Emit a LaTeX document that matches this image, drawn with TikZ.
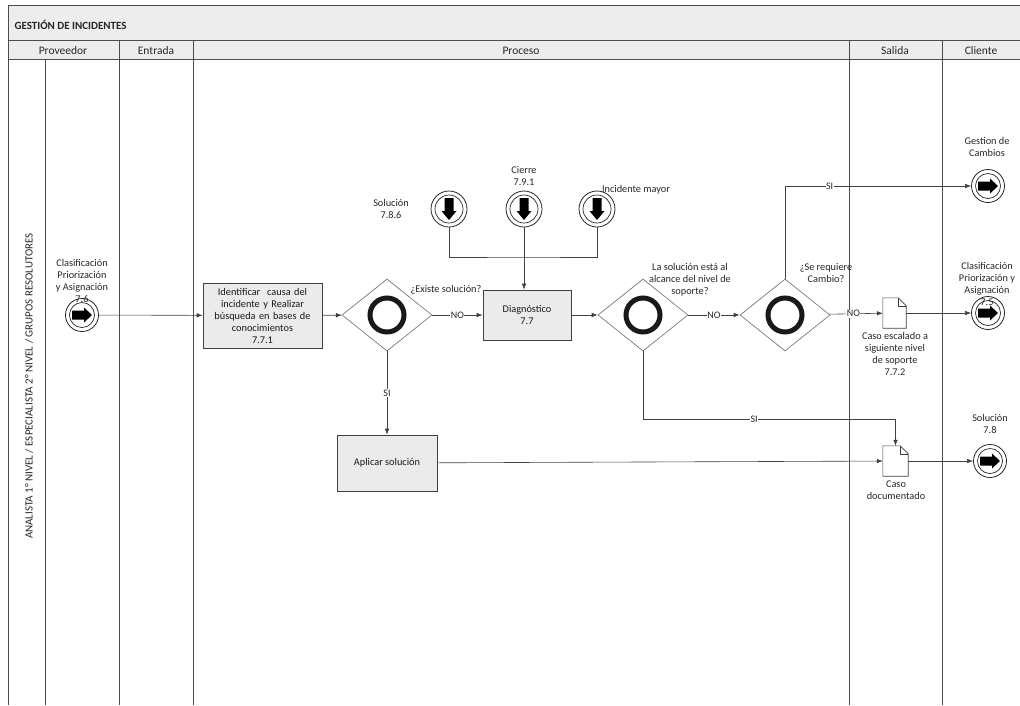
\documentclass[tikz,border=0pt]{standalone}
\usepackage{fontspec}
\setmainfont{Carlito}
\usetikzlibrary{shapes.geometric,arrows.meta,calc}
\newcommand\mydoc[1]{%
  \draw[black!75, fill=white, line width=0.6pt] (#1.north west) -- ($(#1.north east)+(-8,0)$) -- ($(#1.north east)+(0,8)$) -- (#1.south east) -- (#1.south west) -- cycle;
  \draw[black!75, line width=0.5pt] ($(#1.north east)+(-8,0)$) -- ($(#1.north east)+(-8,8)$) -- ($(#1.north east)+(0,8)$);}
\begin{document}
\begin{tikzpicture}[x=1pt,y=-1pt,
  lbl/.style={font=\fontsize{10.3}{12}\selectfont, align=center, text=black!85, inner sep=0pt},
  hdr/.style={font=\fontsize{11.5}{13}\selectfont, text=black!85},
  task/.style={draw=black!75, line width=0.8pt, fill=black!8, font=\fontsize{10.3}{12}\selectfont, align=center, inner sep=1pt, text=black!90},
  gw/.style={diamond, draw=black!60, line width=0.6pt, minimum width=90pt, minimum height=72pt, inner sep=0pt, fill=white},
  ev/.style={circle, draw=black!85, line width=0.8pt, minimum size=33pt, inner sep=0pt, fill=white},
  docn/.style={rectangle, draw=none, inner sep=0pt},
  flow/.style={draw=black!75, line width=0.6pt, -{Latex[length=6pt,width=4.5pt]}},
  plain/.style={draw=black!75, line width=0.6pt},
  elbl/.style={font=\fontsize{10}{11}\selectfont, fill=white, inner sep=0.5pt, text=black!85},
  lane/.style={draw=black!70, line width=0.7pt}
]
\useasboundingbox (0,0) rectangle (1020,705);
% bands
\fill[black!7] (8,5) rectangle (1020,59);
\draw[lane] (8,705) -- (8,5) -- (1020,5);
\draw[lane] (8,40) -- (1020,40);
\draw[lane] (8,59) -- (1020,59);
\draw[lane] (45,59) -- (45,705);
\draw[lane] (119,40) -- (119,705);
\draw[lane] (193,40) -- (193,705);
\draw[lane] (849,40) -- (849,705);
\draw[lane] (942,40) -- (942,705);
\node[hdr, font=\fontsize{11}{13}\selectfont\bfseries, anchor=west] (title) at (11,25) {GESTIÓN DE INCIDENTES};
\node[hdr] (h1) at (63,51) {Proveedor};
\node[hdr] (h2) at (156,51) {Entrada};
\node[hdr] (h3) at (521,51) {Proceso};
\node[hdr] (h4) at (895,51) {Salida};
\node[hdr] (h5) at (981,51) {Cliente};
\node[lbl, rotate=90, font=\fontsize{11}{12}\selectfont] (lanelbl) at (29,386) {ANALISTA 1° NIVEL / ESPECIALISTA 2° NIVEL / GRUPOS RESOLUTORES};

% nodes
\node[ev] (s0) at (82,315) {};
\node[task, minimum width=119pt, minimum height=65pt, text width=115pt] (t1) at (262.5,315.5) {Identificar\ \ causa del\\ incidente y Realizar\\ búsqueda en bases de\\ conocimientos\\ 7.7.1};
\node[gw] (g1) at (387,315) {};
\node[task, minimum width=88pt, minimum height=50pt] (diag) at (527,315) {Diagnóstico\\7.7};
\node[gw] (g2) at (643,315) {};
\node[gw] (g3) at (785,315) {};
\node[docn, minimum width=23pt, minimum height=30pt] (d1) at (894.5,313) {};
\node[docn, minimum width=25pt, minimum height=30pt] (d2) at (895.5,461) {};
\node[task, minimum width=100pt, minimum height=56pt] (ap) at (387,463) {Aplicar solución};
\node[ev] (e1) at (988,186) {};
\node[ev] (e2) at (988,313) {};
\node[ev] (e3) at (990,461) {};
\node[ev, minimum size=36pt] (i1) at (449,209) {};
\node[ev, minimum size=36pt] (i2) at (524,209) {};
\node[ev, minimum size=36pt] (i3) at (597,209) {};
\coordinate (j) at (524,257);

% decorations
\foreach \g in {g1,g2,g3} {\draw[line width=5pt, black!90] (\g.center) circle (17pt);}
\foreach \n in {s0,e1,e2,e3} {
  \draw[black!85, line width=0.7pt] (\n.center) circle (12.5pt);
  \fill[black, shift={(\n.center)}] (-10,-4.5) -- (2,-4.5) -- (2,-7.5) -- (10,0) -- (2,7.5) -- (2,4.5) -- (-10,4.5) -- cycle;}
\foreach \n in {i1,i2,i3} {
  \draw[black!85, line width=0.7pt] (\n.center) circle (14pt);
  \fill[black, shift={(\n.center)}] (-4.5,-11) -- (4.5,-11) -- (4.5,2) -- (7.5,2) -- (0,11) -- (-7.5,2) -- (-4.5,2) -- cycle;}
\mydoc{d1}
\mydoc{d2}

% labels
\node[lbl] (ls0) at (82,281) {Clasificación\\Priorización\\y Asignación\\7.6};
\node[lbl] (le1) at (987,147) {Gestion de\\Cambios};
\node[lbl] (le2) at (987,284) {Clasificación\\Priorización y\\Asignación\\7.5};
\node[lbl] (le3) at (990,424) {Solución\\7.8};
\node[lbl] (ld1) at (895,354) {Caso escalado a\\siguiente nivel\\de soporte\\7.7.2};
\node[lbl] (ld2) at (896,490) {Caso\\documentado};
\node[lbl] (li1) at (391,209) {Solución\\7.8.6};
\node[lbl] (li2) at (524,176) {Cierre\\7.9.1};
\node[lbl] (li3) at (636,190) {Incidente mayor};
\node[lbl] (lg1) at (446,290) {¿Existe solución?};
\node[lbl] (lg2) at (690,280) {La solución está al\\alcance del nivel de\\soporte?};
\node[lbl] (lg3) at (826,273) {¿Se requiere\\Cambio?};

% connectors
\draw[flow] (s0) -- (t1);
\draw[flow] (t1) -- (g1);
\draw[flow] (g1) -- node[elbl]{NO} (diag);
\draw[flow] (g1.south) -- node[elbl, pos=0.5]{SI} (ap.north);
\draw[flow] (diag) -- (g2);
\draw[flow] (g2) -- node[elbl]{NO} (g3);
\draw[flow] (g2.south) -- ++(0,68) -| node[elbl, pos=0.22]{SI} (d2.north);
\draw[flow] (g3.north) |- node[elbl, pos=0.62]{SI} (e1);
\draw[flow] (g3) -- node[elbl, pos=0.45]{NO} (d1);
\draw[flow] (d1) -- (e2);
\draw[flow] (ap) -- (d2);
\draw[flow] (d2) -- (e3);
\draw[plain] (i1.south) |- (j) -| (i3.south);
\draw[flow] (i2.south) -- (i2.south |- diag.north);
\end{tikzpicture}
\end{document}
